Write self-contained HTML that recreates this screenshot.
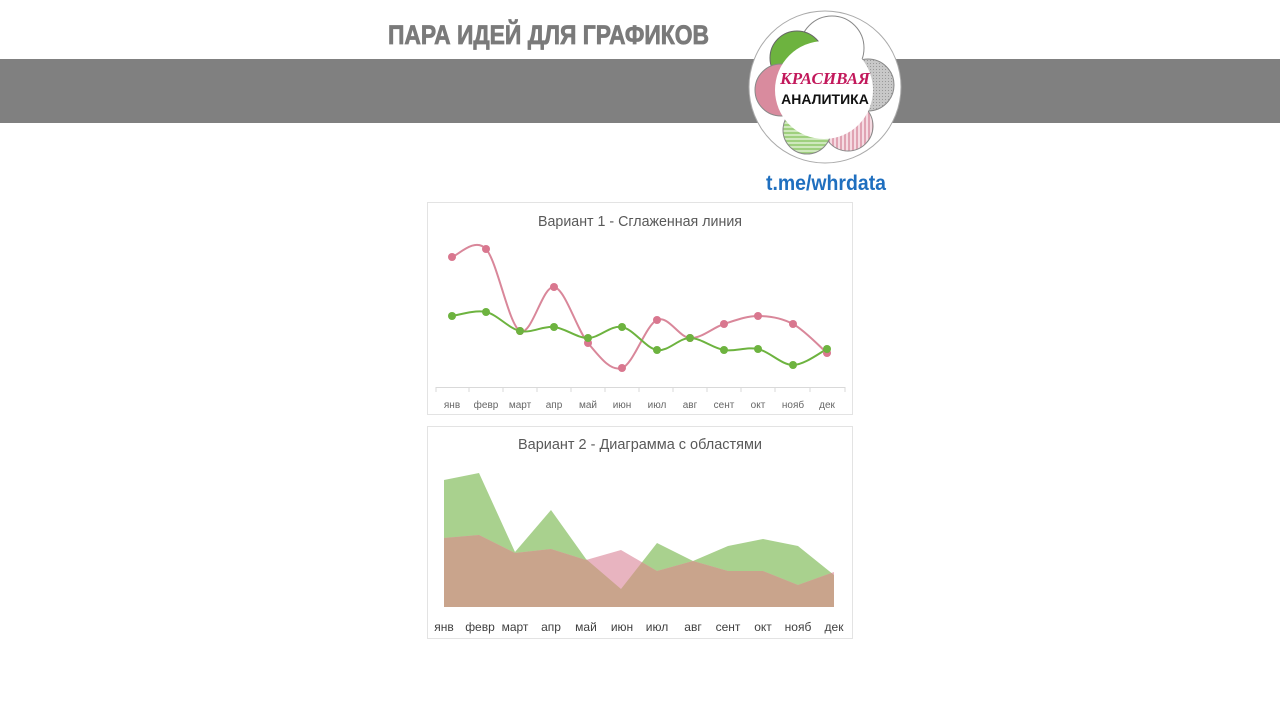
<!DOCTYPE html><html><head><meta charset="utf-8"><style>
body{margin:0;width:1280px;height:719px;background:#fff;overflow:hidden;font-family:"Liberation Sans",sans-serif}
</style></head><body>
<svg width="1280" height="719" xmlns="http://www.w3.org/2000/svg" style="position:absolute;left:0;top:0">
<defs>
<pattern id="hs" width="4" height="4" patternUnits="userSpaceOnUse"><rect width="4" height="4" fill="#cfe8bd"/><rect width="4" height="2" fill="#9fd07e"/></pattern>
<pattern id="vs" width="4" height="4" patternUnits="userSpaceOnUse"><rect width="4" height="4" fill="#f5dbe2"/><rect width="2" height="4" fill="#e0a3b3"/></pattern>
<pattern id="gs" width="3" height="3" patternUnits="userSpaceOnUse"><rect width="3" height="3" fill="#c8c8c8"/><rect width="1" height="1" fill="#999"/></pattern>
<clipPath id="gclip"><polygon points="444,607 444,480 479,473 515,552 551,510 586,559 621,589 657,543 693,561 728,546 763,539 798,546 834,575 834,607"/></clipPath>
</defs>
<rect x="0" y="59" width="1280" height="64" fill="#808080"/>
<text x="388" y="44" font-size="27" font-weight="bold" fill="#7a7a7a" stroke="#7a7a7a" stroke-width="0.8" textLength="321" lengthAdjust="spacingAndGlyphs">ПАРА ИДЕЙ ДЛЯ ГРАФИКОВ</text>
<circle cx="825" cy="87" r="76" fill="#fff" stroke="#aaa" stroke-width="1"/>
<circle cx="832" cy="48" r="32" fill="#fff" stroke="#888"/>
<circle cx="797" cy="58" r="27" fill="#6db33f" stroke="#666"/>
<circle cx="868" cy="85" r="26" fill="url(#gs)" stroke="#888"/>
<circle cx="781" cy="90" r="26" fill="#d98b9e" stroke="#888"/>
<circle cx="848" cy="126" r="25" fill="url(#vs)" stroke="#888"/>
<circle cx="807" cy="130" r="24" fill="url(#hs)" stroke="#888"/>
<circle cx="824" cy="90" r="49" fill="#fff"/>
<text x="825" y="84" font-size="17" font-style="italic" font-weight="bold" fill="#c2185b" text-anchor="middle" font-family="Liberation Serif,serif">КРАСИВАЯ</text>
<text x="825" y="104" font-size="14" font-weight="bold" fill="#111" text-anchor="middle">АНАЛИТИКА</text>
<text x="826" y="190" font-size="21" font-weight="bold" fill="#1f6fbf" text-anchor="middle" textLength="120" lengthAdjust="spacingAndGlyphs">t.me/whrdata</text>

<rect x="427.5" y="202.5" width="425" height="212" fill="#fff" stroke="#e3e3e3"/>
<text x="640" y="226" font-size="15" fill="#595959" text-anchor="middle" textLength="204" lengthAdjust="spacingAndGlyphs">Вариант 1 - Сглаженная линия</text>
<line x1="436" y1="387.5" x2="845" y2="387.5" stroke="#d9d9d9"/>
<g stroke="#d9d9d9">
<line x1="436" y1="387" x2="436" y2="392"/><line x1="469" y1="387" x2="469" y2="392"/><line x1="503" y1="387" x2="503" y2="392"/><line x1="537" y1="387" x2="537" y2="392"/><line x1="571" y1="387" x2="571" y2="392"/><line x1="605" y1="387" x2="605" y2="392"/><line x1="639" y1="387" x2="639" y2="392"/><line x1="673" y1="387" x2="673" y2="392"/><line x1="707" y1="387" x2="707" y2="392"/><line x1="741" y1="387" x2="741" y2="392"/><line x1="775" y1="387" x2="775" y2="392"/><line x1="810" y1="387" x2="810" y2="392"/><line x1="845" y1="387" x2="845" y2="392"/>
</g>
<g font-size="10" fill="#666" text-anchor="middle">
<text x="452" y="408">янв</text><text x="486" y="408">февр</text><text x="520" y="408">март</text><text x="554" y="408">апр</text><text x="588" y="408">май</text><text x="622" y="408">июн</text><text x="657" y="408">июл</text><text x="690" y="408">авг</text><text x="724" y="408">сент</text><text x="758" y="408">окт</text><text x="793" y="408">нояб</text><text x="827" y="408">дек</text>
</g>
<path id="pk" fill="none" stroke="#d9879a" stroke-width="2"/>
<path id="gr" fill="none" stroke="#6db33f" stroke-width="2"/>
<g id="pkd" fill="#d9778f"></g><g id="grd" fill="#6db33f"></g>

<rect x="427.5" y="426.5" width="425" height="212" fill="#fff" stroke="#e3e3e3"/>
<text x="640" y="449" font-size="15" fill="#595959" text-anchor="middle" textLength="244" lengthAdjust="spacingAndGlyphs">Вариант 2 - Диаграмма с областями</text>
<polygon points="444,607 444,480 479,473 515,552 551,510 586,559 621,589 657,543 693,561 728,546 763,539 798,546 834,575 834,607" fill="#a9d18e"/>
<polygon points="444,607 444,538 479,535 515,553 551,549 586,560 621,550 657,571 693,561 728,571 763,571 798,585 834,572 834,607" fill="#e8b4c0"/>
<polygon points="444,607 444,538 479,535 515,553 551,549 586,560 621,550 657,571 693,561 728,571 763,571 798,585 834,572 834,607" fill="#c9a48c" clip-path="url(#gclip)"/>
<g font-size="12" fill="#404040" text-anchor="middle">
<text x="444" y="631">янв</text><text x="480" y="631">февр</text><text x="515" y="631">март</text><text x="551" y="631">апр</text><text x="586" y="631">май</text><text x="622" y="631">июн</text><text x="657" y="631">июл</text><text x="693" y="631">авг</text><text x="728" y="631">сент</text><text x="763" y="631">окт</text><text x="798" y="631">нояб</text><text x="834" y="631">дек</text>
</g>
</svg>
<script>
var xs=[452,486,520,554,588,622,657,690,724,758,793,827];
var p=[257,249,331,287,343,368,320,338,324,316,324,353];
var g=[316,312,331,327,338,327,350,338,350,349,365,349];
function sm(y){var d="M"+xs[0]+","+y[0];for(var i=0;i<11;i++){var x0=xs[Math.max(i-1,0)],y0=y[Math.max(i-1,0)],x1=xs[i],y1=y[i],x2=xs[i+1],y2=y[i+1],x3=xs[Math.min(i+2,11)],y3=y[Math.min(i+2,11)];var t=6;d+=" C"+(x1+(x2-x0)/t)+","+(y1+(y2-y0)/t)+" "+(x2-(x3-x1)/t)+","+(y2-(y3-y1)/t)+" "+x2+","+y2;}return d;}
document.getElementById("pk").setAttribute("d",sm(p));
document.getElementById("gr").setAttribute("d",sm(g));
function dots(id,y){var el=document.getElementById(id);for(var i=0;i<12;i++){var c=document.createElementNS("http://www.w3.org/2000/svg","circle");c.setAttribute("cx",xs[i]);c.setAttribute("cy",y[i]);c.setAttribute("r",4);el.appendChild(c);}}
dots("pkd",p);dots("grd",g);
</script>
</body></html>
